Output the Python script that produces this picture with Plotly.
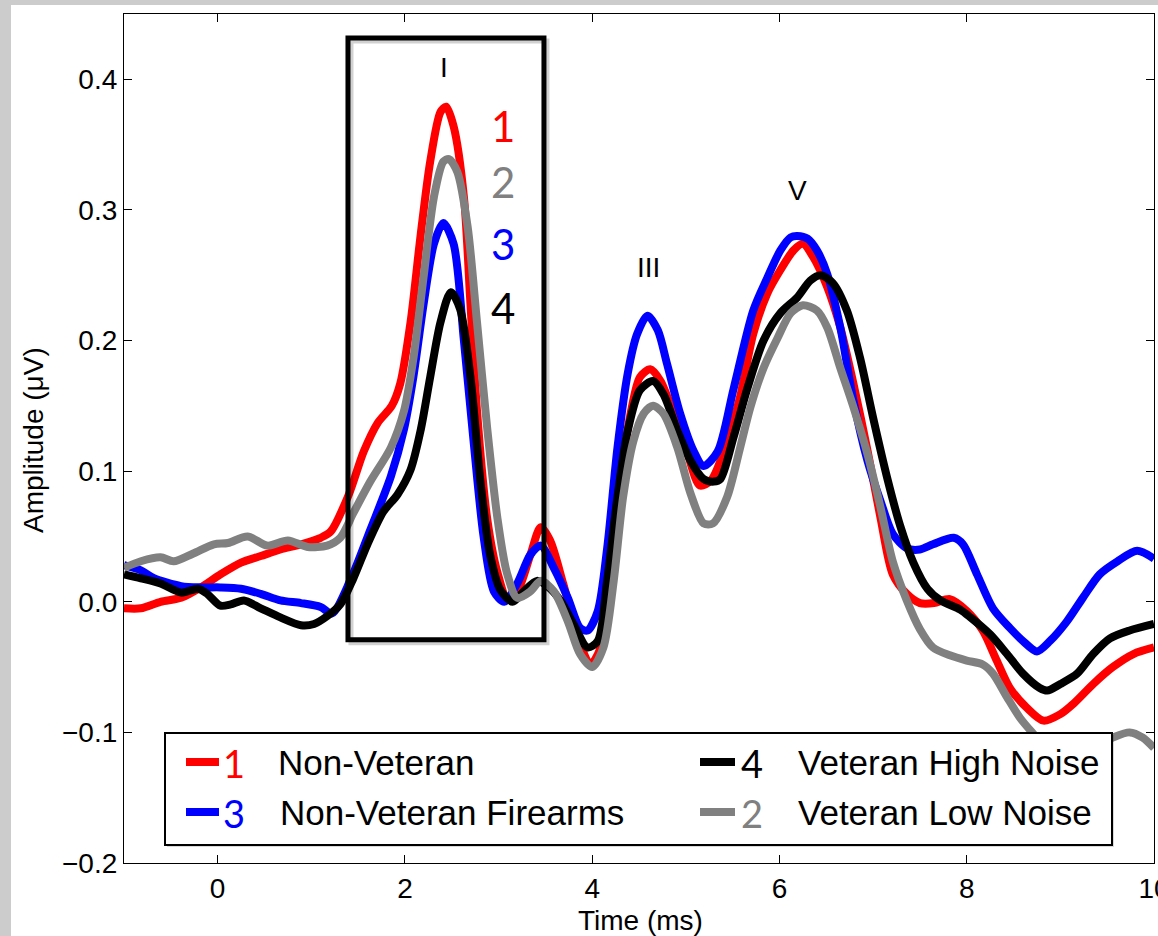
import plotly.graph_objects as go

# ---------------- data ----------------
t_red = [-1.0, -0.82, -0.61, -0.39, -0.18, 0.03, 0.25, 0.46, 0.67, 0.89, 1.10, 1.21, 1.40, 1.56, 1.71, 1.86,
         1.95, 2.06, 2.17, 2.27, 2.38, 2.44, 2.52, 2.63, 2.70, 2.77, 2.88, 2.99, 3.09, 3.20, 3.34, 3.45,
         3.55, 3.69, 3.84, 3.98, 4.09, 4.19, 4.30, 4.41, 4.51, 4.62, 4.73, 4.87, 5.02, 5.15, 5.27, 5.42,
         5.58, 5.72, 5.87, 6.01, 6.15, 6.25, 6.36, 6.51, 6.65, 6.79, 6.94, 7.08, 7.21, 7.36, 7.50, 7.65,
         7.82, 8.00, 8.17, 8.32, 8.46, 8.64, 8.82, 9.00, 9.14, 9.35, 9.56, 9.78, 10.0]
v_red = [-0.005, -0.005, 0.000, 0.003, 0.011, 0.021, 0.030, 0.035, 0.040, 0.044, 0.049, 0.054, 0.082, 0.115, 0.137, 0.150,
         0.167, 0.214, 0.282, 0.337, 0.375, 0.379, 0.364, 0.310, 0.228, 0.146, 0.063, 0.022, 0.003, 0.008, 0.036, 0.057,
         0.047, 0.014, -0.025, -0.048, -0.035, 0.016, 0.093, 0.144, 0.172, 0.178, 0.169, 0.144, 0.113, 0.089, 0.093, 0.118,
         0.157, 0.205, 0.236, 0.254, 0.269, 0.274, 0.264, 0.241, 0.210, 0.167, 0.116, 0.064, 0.021, 0.006, -0.001, -0.001,
         0.002, -0.007, -0.022, -0.045, -0.066, -0.081, -0.091, -0.086, -0.078, -0.063, -0.050, -0.040, -0.035]

t_blue = [-1.0, -0.82, -0.68, -0.39, -0.18, 0.03, 0.25, 0.46, 0.67, 0.89, 1.10, 1.22, 1.42, 1.63, 1.85, 1.99,
          2.09, 2.20, 2.31, 2.41, 2.52, 2.63, 2.74, 2.84, 2.95, 3.06, 3.20, 3.34, 3.45, 3.59, 3.74, 3.87,
          3.95, 4.06, 4.16, 4.27, 4.38, 4.48, 4.59, 4.70, 4.80, 4.94, 5.08, 5.19, 5.34, 5.51, 5.72, 5.87,
          6.01, 6.12, 6.19, 6.30, 6.40, 6.51, 6.65, 6.79, 6.94, 7.08, 7.21, 7.36, 7.50, 7.64, 7.86, 7.96,
          8.11, 8.28, 8.46, 8.60, 8.75, 8.89, 9.07, 9.24, 9.42, 9.61, 9.82, 10.0]
v_blue = [0.028, 0.024, 0.018, 0.012, 0.011, 0.011, 0.010, 0.006, 0.001, -0.001, -0.004, -0.009, 0.017, 0.055, 0.096, 0.132,
          0.172, 0.228, 0.274, 0.290, 0.274, 0.200, 0.118, 0.050, 0.008, 0.000, 0.014, 0.036, 0.043, 0.026, 0.003, -0.020,
          -0.022, -0.007, 0.041, 0.118, 0.175, 0.205, 0.219, 0.208, 0.182, 0.144, 0.116, 0.104, 0.115, 0.163, 0.223, 0.248,
          0.269, 0.279, 0.280, 0.278, 0.269, 0.251, 0.210, 0.154, 0.108, 0.077, 0.052, 0.041, 0.040, 0.044, 0.049, 0.044,
          0.021, -0.005, -0.020, -0.030, -0.038, -0.030, -0.015, 0.003, 0.021, 0.031, 0.039, 0.033]

t_black = [-1.0, -0.82, -0.61, -0.39, -0.21, -0.11, 0.03, 0.14, 0.28, 0.46, 0.67, 0.89, 1.03, 1.17, 1.31, 1.45,
           1.60, 1.77, 1.92, 2.06, 2.17, 2.27, 2.38, 2.49, 2.59, 2.70, 2.81, 2.91, 3.02, 3.15, 3.27, 3.41,
           3.52, 3.66, 3.80, 3.95, 4.06, 4.16, 4.27, 4.38, 4.51, 4.65, 4.76, 4.91, 5.05, 5.19, 5.30, 5.37,
           5.51, 5.66, 5.83, 6.01, 6.19, 6.33, 6.44, 6.57, 6.72, 6.86, 7.00, 7.15, 7.29, 7.43, 7.58, 7.72,
           7.93, 8.04, 8.25, 8.43, 8.60, 8.78, 8.86, 9.00, 9.18, 9.35, 9.53, 9.74, 10.0]
v_black = [0.021, 0.018, 0.014, 0.007, 0.010, 0.006, -0.003, -0.002, 0.001, -0.005, -0.012, -0.018, -0.017, -0.011, -0.002, 0.018,
           0.044, 0.069, 0.082, 0.101, 0.132, 0.172, 0.214, 0.237, 0.224, 0.172, 0.090, 0.036, 0.009, 0.000, 0.008, 0.016,
           0.012, 0.001, -0.017, -0.035, -0.030, 0.016, 0.080, 0.131, 0.162, 0.169, 0.159, 0.131, 0.108, 0.094, 0.092, 0.094,
           0.126, 0.164, 0.200, 0.221, 0.233, 0.246, 0.250, 0.244, 0.223, 0.187, 0.141, 0.095, 0.058, 0.030, 0.010, 0.001,
           -0.006, -0.012, -0.025, -0.040, -0.055, -0.066, -0.068, -0.063, -0.055, -0.040, -0.028, -0.022, -0.017]

t_gray = [-1.0, -0.82, -0.61, -0.47, -0.26, -0.04, 0.11, 0.32, 0.53, 0.75, 0.96, 1.17, 1.31, 1.45, 1.63, 1.85,
          1.99, 2.09, 2.20, 2.31, 2.41, 2.47, 2.56, 2.67, 2.77, 2.88, 2.99, 3.09, 3.20, 3.34, 3.45, 3.59,
          3.74, 3.87, 4.00, 4.12, 4.23, 4.33, 4.44, 4.55, 4.65, 4.76, 4.91, 5.05, 5.19, 5.29, 5.44, 5.58,
          5.69, 5.83, 5.98, 6.12, 6.25, 6.40, 6.51, 6.65, 6.79, 6.94, 7.08, 7.21, 7.36, 7.50, 7.64, 7.82,
          8.00, 8.17, 8.28, 8.43, 8.57, 8.71, 8.85, 9.00, 9.15, 9.30, 9.45, 9.56, 9.74, 9.88, 10.0]
v_gray = [0.026, 0.031, 0.034, 0.031, 0.037, 0.044, 0.045, 0.050, 0.043, 0.047, 0.042, 0.043, 0.049, 0.068, 0.092, 0.118,
          0.146, 0.186, 0.249, 0.310, 0.337, 0.339, 0.329, 0.287, 0.214, 0.132, 0.063, 0.022, 0.003, 0.008, 0.016, 0.008,
          -0.015, -0.040, -0.050, -0.035, 0.016, 0.080, 0.123, 0.144, 0.150, 0.144, 0.118, 0.083, 0.060, 0.060, 0.080, 0.118,
          0.149, 0.179, 0.202, 0.221, 0.227, 0.223, 0.210, 0.179, 0.149, 0.113, 0.072, 0.031, 0.001, -0.021, -0.035, -0.041,
          -0.045, -0.048, -0.055, -0.073, -0.089, -0.101, -0.112, -0.120, -0.122, -0.116, -0.108, -0.104, -0.100, -0.104, -0.112]

series_names = ["Non-Veteran", "Non-Veteran Firearms", "Veteran High Noise", "Veteran Low Noise"]
series_nums = ["1", "3", "4", "2"]
series_colors = ["#ff0000", "#0000ff", "#000000", "#808080"]
series_t = [t_red, t_blue, t_black, t_gray]
series_v = [v_red, v_blue, v_black, v_gray]

x_ticks = [0, 2, 4, 6, 8, 10]
y_ticks = [-0.2, -0.1, 0.0, 0.1, 0.2, 0.3, 0.4]

peak_labels = ["I", "III", "V"]
peak_x = [2.42, 4.60, 6.19]
peak_y = [0.409, 0.256, 0.315]

rank_nums = ["1", "2", "3", "4"]
rank_colors = ["#ff0000", "#808080", "#0000ff", "#000000"]
rank_x = 3.05
rank_y = [0.364, 0.321, 0.274, 0.225]

box_x = [1.392, 3.485]
box_y = [-0.029, 0.4316]

# ---------------- layout geometry ----------------
W, H = 1158, 936
L, T, R, B = 124, 14, 4, 73
PW, PH = W - L - R, H - T - B


def pxx(xp):
    return (xp - L) / PW


def pxy(yp):
    return (H - B - yp) / PH


FONT = "Liberation Sans, Arial, sans-serif"
NUMFONT = "Lato, Carlito, sans-serif"

fig = go.Figure()
for name, col, t, v in zip(series_names, series_colors, series_t, series_v):
    fig.add_trace(go.Scatter(x=t, y=v, mode="lines", name=name,
                             line=dict(color=col, width=8, shape="spline", smoothing=0.8),
                             showlegend=False, hoverinfo="skip"))

shapes = []
# grey frame bands around the page
shapes.append(dict(type="rect", xref="paper", yref="paper", x0=pxx(-10), x1=pxx(11), y0=pxy(950), y1=pxy(-10),
                   fillcolor="#cccccc", line=dict(width=0), layer="below"))
shapes.append(dict(type="rect", xref="paper", yref="paper", x0=pxx(-10), x1=pxx(1170), y0=pxy(5), y1=pxy(-10),
                   fillcolor="#cccccc", line=dict(width=0), layer="below"))

# box around peak I (with soft shadow)
dx = 3 * 11.0 / PW
dy = 3 * 0.65 / PH
shapes.append(dict(type="rect", xref="x", yref="y", x0=box_x[0] + dx, x1=box_x[1] + dx,
                   y0=box_y[0] - dy, y1=box_y[1] - dy, line=dict(color="rgba(0,0,0,0.18)", width=5), layer="above"))
shapes.append(dict(type="rect", xref="x", yref="y", x0=box_x[0], x1=box_x[1], y0=box_y[0], y1=box_y[1],
                   line=dict(color="black", width=5), layer="above"))

# legend box
lg_x0, lg_x1, lg_y0, lg_y1 = 165, 1112, 733, 845
shapes.append(dict(type="rect", xref="paper", yref="paper", x0=pxx(lg_x0 + 2), x1=pxx(lg_x1 + 2),
                   y0=pxy(lg_y1 + 2), y1=pxy(lg_y0 + 2), fillcolor="rgba(0,0,0,0.15)",
                   line=dict(width=0), layer="above"))
shapes.append(dict(type="rect", xref="paper", yref="paper", x0=pxx(lg_x0), x1=pxx(lg_x1),
                   y0=pxy(lg_y1), y1=pxy(lg_y0), fillcolor="white",
                   line=dict(color="black", width=2), layer="above"))

annotations = []
leg_rows = [762, 812]
leg_cols = [dict(l0=186, l1=219, num=234, txt=276), dict(l0=700, l1=735, num=752, txt=796)]
leg_pos = [(0, 0), (0, 1), (1, 0), (1, 1)]
for (ci, ri), name, num, col in zip(leg_pos, series_names, series_nums, series_colors):
    c = leg_cols[ci]
    yy = leg_rows[ri]
    shapes.append(dict(type="line", xref="paper", yref="paper", x0=pxx(c["l0"]), x1=pxx(c["l1"]),
                       y0=pxy(yy), y1=pxy(yy), line=dict(color=col, width=8), layer="above"))
    annotations.append(dict(xref="paper", yref="paper", x=pxx(c["num"]), y=pxy(yy + 1), text=num,
                            showarrow=False, xanchor="center", yanchor="middle",
                            font=dict(family=NUMFONT, size=38, color=col)))
    annotations.append(dict(xref="paper", yref="paper", x=pxx(c["txt"] + (2 if ci == 0 and ri == 1 else 0)),
                            y=pxy(yy), text=name, showarrow=False, xanchor="left", yanchor="middle",
                            font=dict(family=FONT, size=35, color="black")))

for lab, x, y in zip(peak_labels, peak_x, peak_y):
    annotations.append(dict(x=x, y=y, xref="x", yref="y", text=lab, showarrow=False,
                            xanchor="center", yanchor="middle", font=dict(family=FONT, size=28, color="black")))
for lab, col, y in zip(rank_nums, rank_colors, rank_y):
    annotations.append(dict(x=rank_x, y=y, xref="x", yref="y", text=lab, showarrow=False,
                            xanchor="center", yanchor="middle", font=dict(family=NUMFONT, size=42, color=col)))

# axis titles
annotations.append(dict(xref="paper", yref="paper", x=pxx(640), y=pxy(920), text="Time (ms)", showarrow=False,
                        xanchor="center", yanchor="middle", font=dict(family=FONT, size=28, color="black")))
annotations.append(dict(xref="paper", yref="paper", x=pxx(33), y=pxy(440), text="Amplitude (μV)",
                        showarrow=False, textangle=-90, xanchor="center", yanchor="middle",
                        font=dict(family=FONT, size=28, color="black")))

axis_common = dict(showgrid=False, zeroline=False, showline=True, linecolor="black", linewidth=1.2,
                   ticks="inside", ticklen=8, tickwidth=1, tickcolor="black", mirror="ticks",
                   tickfont=dict(family=FONT, size=28, color="black"))

fig.update_layout(
    template="none",
    width=W, height=H,
    margin=dict(l=L, r=R, t=T, b=B, pad=0),
    paper_bgcolor="white", plot_bgcolor="white",
    xaxis=dict(range=[-1, 10], tickvals=x_ticks, ticktext=[str(v) for v in x_ticks],
               ticklabeloverflow="allow", automargin=False, **axis_common),
    yaxis=dict(range=[-0.2, 0.45], tickvals=y_ticks, tickformat=".1f", automargin=False, **axis_common),
    shapes=shapes,
    annotations=annotations,
    showlegend=False,
)

fig.write_html("out.html")
